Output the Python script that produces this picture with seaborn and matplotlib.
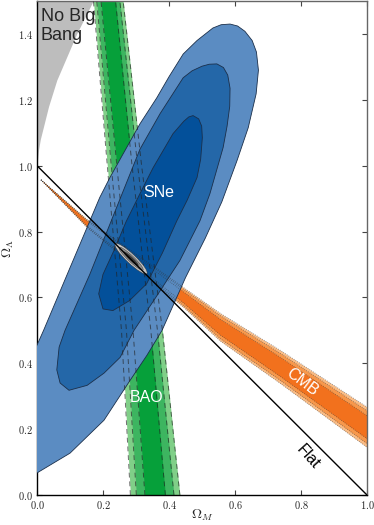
import matplotlib
matplotlib.use('Agg')
import matplotlib.pyplot as plt
import numpy as np
import seaborn as sns
from matplotlib.patches import Ellipse
from matplotlib.ticker import FuncFormatter, MultipleLocator

sns.set_style('ticks')
plt.rcParams['font.family'] = ['Liberation Sans', 'DejaVu Sans']
plt.rcParams['mathtext.fontset'] = 'cm'

# "No Big Bang" boundary (Omega_M, Omega_Lambda)
nbb_om = [0.0, 0.005, 0.01, 0.02, 0.035, 0.06, 0.09, 0.12, 0.145, 0.17]
nbb_ol = [1.0, 1.05, 1.08, 1.12, 1.18, 1.26, 1.33, 1.40, 1.45, 1.5]

# SNe confidence contours (outer -> inner)
sne_outer_om = [0.379, 0.45, 0.51, 0.56, 0.606, 0.64, 0.664, 0.671, 0.665, 0.652, 0.63,
                0.608, 0.585, 0.558, 0.533, 0.485, 0.443, 0.40, 0.363, 0.312, 0.261,
                0.221, 0.19, 0.1, 0.02, -0.02, -0.05, -0.05, 0.0, 0.1, 0.203, 0.282, 0.333]
sne_outer_ol = [0.5, 0.66, 0.78, 0.89, 1.015, 1.115, 1.218, 1.29, 1.345, 1.38, 1.408,
                1.424, 1.43, 1.428, 1.418, 1.38, 1.339, 1.27, 1.206, 1.127, 1.036,
                0.964, 0.903, 0.69, 0.5, 0.41, 0.3, 0.05, 0.067, 0.127, 0.227, 0.348, 0.424]
sne_mid_om = [0.545, 0.565, 0.578, 0.585, 0.584, 0.576, 0.564, 0.524, 0.494, 0.433, 0.36,
              0.294, 0.252, 0.203, 0.152, 0.097, 0.07, 0.06, 0.067, 0.085, 0.16, 0.24,
              0.312, 0.373, 0.443, 0.47, 0.50, 0.522]
sne_mid_ol = [1.309, 1.298, 1.275, 1.235, 1.18, 1.12, 1.055, 0.915, 0.833, 0.712, 0.6,
              0.5, 0.418, 0.37, 0.333, 0.318, 0.34, 0.38, 0.449, 0.5, 0.67, 0.87,
              1.05, 1.158, 1.267, 1.288, 1.302, 1.308]
sne_in_om = [0.473, 0.49, 0.499, 0.501, 0.496, 0.485, 0.455, 0.424, 0.38, 0.332, 0.28,
             0.23, 0.2, 0.187, 0.2, 0.233, 0.27, 0.312, 0.352, 0.412, 0.445, 0.46]
sne_in_ol = [1.152, 1.142, 1.12, 1.085, 1.02, 0.964, 0.895, 0.833, 0.735, 0.641, 0.59,
             0.56, 0.565, 0.611, 0.67, 0.742, 0.83, 0.915, 0.994, 1.097, 1.135, 1.148]

# BAO band: centre and half-widths at given Omega_Lambda
bao_ol = [0.0, 0.5, 1.0, 1.5]
bao_mid = [0.358, 0.318, 0.265, 0.216]
bao_half = {'light': [0.075, 0.062, 0.052, 0.045],
            'medium': [0.057, 0.047, 0.040, 0.035],
            'dark': [0.031, 0.027, 0.023, 0.022]}

# CMB band: centre and half-widths at given Omega_M
cmb_om = [0.012, 0.15, 0.444, 0.555, 0.736, 1.0]
cmb_mid = [0.957, 0.826, 0.60, 0.51, 0.39, 0.206]
cmb_half = {'light': [0.0, 0.012, 0.03, 0.042, 0.05, 0.061],
            'medium': [0.0, 0.010, 0.025, 0.035, 0.041, 0.050],
            'dark': [0.0, 0.007, 0.017, 0.024, 0.029, 0.035]}

# combined constraint (centre, half-length, half-width, angle)
comb_center = (0.285, 0.7175)
comb_sizes = [(0.066, 0.014), (0.05, 0.009), (0.03, 0.005)]
comb_angle = -43.5

flat_om = [0.0, 1.0]
flat_ol = [1.0, 0.0]

blues = ['#5b8cc2', '#2467a8', '#03509a']
greens = {'light': '#80cf88', 'medium': '#3db560', 'dark': '#06a03a'}
oranges = {'light': '#fbbd86', 'medium': '#f7984c', 'dark': '#f2711d'}
grays = ['#c4c4c4', '#8e8e8e', '#3a3a3a']

fig = plt.figure(figsize=(3.74, 5.25), dpi=100)
ax = fig.add_axes([37 / 374, 30 / 525, 330 / 374, 494 / 525])

# No big bang region
ax.fill_betweenx(nbb_ol, 0, nbb_om, color='#bdbdbd', lw=0, zorder=1)

# BAO
for lvl in ['light', 'medium', 'dark']:
    lo = np.array(bao_mid) - np.array(bao_half[lvl])
    hi = np.array(bao_mid) + np.array(bao_half[lvl])
    ax.fill_betweenx(bao_ol, lo, hi, color=greens[lvl], lw=0, zorder=2)

# CMB
for lvl in ['light', 'medium', 'dark']:
    lo = np.array(cmb_mid) - np.array(cmb_half[lvl])
    hi = np.array(cmb_mid) + np.array(cmb_half[lvl])
    ax.fill_between(cmb_om, lo, hi, color=oranges[lvl], lw=0, zorder=2)

# SNe
for om, ol, c in zip([sne_outer_om, sne_mid_om, sne_in_om],
                     [sne_outer_ol, sne_mid_ol, sne_in_ol], blues):
    ax.fill(om, ol, facecolor=c, edgecolor='#1b2f4a', lw=0.6, zorder=3)

# outlines of BAO and CMB on top
for lvl in ['light', 'medium', 'dark']:
    for sgn in (-1, 1):
        x = np.array(bao_mid) + sgn * np.array(bao_half[lvl])
        ax.plot(x, bao_ol, ls=(0, (5, 4)), color='#222222', lw=0.7, alpha=0.65, zorder=4)
        y = np.array(cmb_mid) + sgn * np.array(cmb_half[lvl])
        ax.plot(cmb_om, y, ls=(0, (1, 1.5)), color='#333333', lw=0.6, alpha=0.6, zorder=4)

# combined
for (a, b), c in zip(comb_sizes, grays):
    ax.add_patch(Ellipse(comb_center, 2 * a, 2 * b, angle=comb_angle,
                         facecolor=c, edgecolor='#333333', lw=0.3, zorder=5))

sns.lineplot(x=flat_om, y=flat_ol, color='black', lw=1.0, ax=ax, zorder=6)

ax.text(0.012, 1.478, 'No Big\nBang', ha='left', va='top', fontsize=13,
        linespacing=1.12, zorder=7)
ax.text(0.37, 0.92, 'SNe', color='white', ha='center', va='center', fontsize=11.5, zorder=7)
ax.text(0.333, 0.297, 'BAO', color='white', ha='center', va='center', fontsize=11.5, zorder=7)
ax.text(0.802, 0.343, 'CMB', color='white', ha='center', va='center', fontsize=11.5,
        rotation=-37, zorder=7)
ax.text(0.822, 0.116, 'Flat', color='black', ha='center', va='center', fontsize=11.5,
        rotation=-48, zorder=7)

ax.set_xlim(0, 1)
ax.set_ylim(0, 1.5)
ax.xaxis.set_major_locator(MultipleLocator(0.2))
ax.yaxis.set_major_locator(MultipleLocator(0.2))
fmt = FuncFormatter(lambda v, p: f'${v:.1f}$')
ax.xaxis.set_major_formatter(fmt)
ax.yaxis.set_major_formatter(fmt)
ax.tick_params(direction='in', top=True, right=True, length=3.5, width=0.8,
               labelsize=7.5, pad=3, color='#444444')
for side in ['top', 'right']:
    ax.spines[side].set_color('#666666')
for side in ['left', 'bottom']:
    ax.spines[side].set_color('black')
for sp in ax.spines.values():
    sp.set_linewidth(1.0)

ax.set_xlabel(r'$\Omega_M$', fontsize=10)
ax.xaxis.set_label_coords(0.5, -20 / 494)
ax.xaxis.label.set_va('center')
ax.set_ylabel(r'$\Omega_\Lambda$', fontsize=10)
ax.yaxis.set_label_coords(-29 / 330, 0.5)
ax.yaxis.label.set_va('center')

fig.savefig('out.png', dpi=100)
